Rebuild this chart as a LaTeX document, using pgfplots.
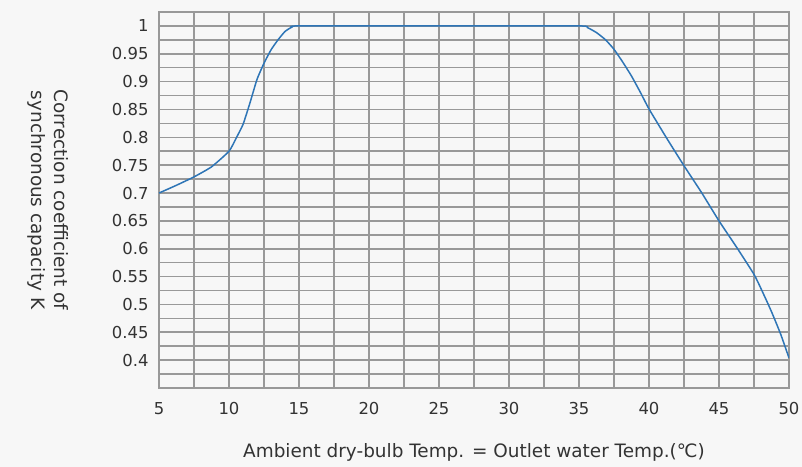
\documentclass[border=0pt]{standalone}
\usepackage{fontspec}
\setmainfont{DejaVu Sans}
\usepackage{pgfplots}
\pgfplotsset{compat=1.18}
\usetikzlibrary{backgrounds}
\definecolor{bgc}{HTML}{F7F7F7}
\definecolor{gridc}{HTML}{999999}
\definecolor{txt}{HTML}{333333}
\definecolor{linec}{HTML}{2E75B6}
\begin{document}
\begin{tikzpicture}
\begin{axis}[
  scale only axis,
  width=630bp, height=376bp,
  xmin=5, xmax=50, ymin=0.35, ymax=1.025,
  xtick={5,10,...,50},
  ytick={0.4,0.45,0.5,0.55,0.6,0.65,0.7,0.75,0.8,0.85,0.9,0.95,1},
  minor x tick num=1,
  minor ytick={0.375,0.425,0.475,0.525,0.575,0.625,0.675,0.725,0.775,0.825,0.875,0.925,0.975},
  grid=both,
  major grid style={gridc, line width=1.6bp},
  minor grid style={gridc, line width=1.6bp},
  axis line style={gridc, line width=1.6bp},
  major tick length=0pt, minor tick length=0pt,
  tick label style={font=\fontsize{16.5}{19}\selectfont, text=txt},
  /pgf/number format/assume math mode=true,
  yticklabel style={/pgf/number format/fixed, /pgf/number format/precision=2, xshift=-7bp},
  xticklabel style={yshift=-11bp},
  xlabel={Ambient dry-bulb Temp. = Outlet water Temp.(℃)},
  xlabel style={font=\fontsize{18.5}{21}\selectfont, text=txt, at={(axis description cs:0.5,-0.17)}, anchor=center},
  ylabel={Correction coefficient of\\synchronous capacity K},
  ylabel style={font=\fontsize{18.5}{23}\selectfont, text=txt, align=center, rotate=180, at={(axis description cs:-0.176,0.5)}, anchor=center},
]
\addplot[linec, line width=1.5bp, smooth, tension=0.3] coordinates {
(5,0.700) (6.25,0.714) (7.5,0.729) (8.75,0.747) (10,0.775) (10.5,0.798)
(11,0.823) (11.5,0.862) (12,0.904) (12.5,0.933) (13,0.957) (13.5,0.975)
(14,0.990) (14.5,0.998) (15,1.0) (25,1.0) (35,1.0) (35.6,0.997) (36.25,0.988)
(36.9,0.975) (37.5,0.958) (38.1,0.936) (38.75,0.91) (39.4,0.880) (40,0.851)
(41.25,0.799) (42.5,0.749) (43.75,0.701) (45,0.650) (46.25,0.603)
(47.5,0.554) (48.1,0.523) (48.75,0.487) (49.4,0.447) (50,0.404)
};
\end{axis}
\pgfresetboundingbox
\path[use as bounding box] ([shift={(-159bp,-79bp)}]current axis.south west) rectangle ([shift={(13bp,12bp)}]current axis.north east);
\begin{scope}[on background layer]
\fill[bgc] ([shift={(-159bp,-79bp)}]current axis.south west) rectangle ([shift={(13bp,12bp)}]current axis.north east);
\end{scope}
\end{tikzpicture}
\end{document}
